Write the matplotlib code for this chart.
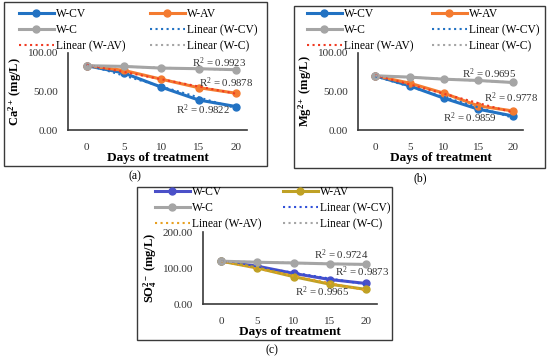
import numpy as np
import matplotlib
matplotlib.use("Agg")
import matplotlib.pyplot as plt
from matplotlib.patches import Rectangle
from matplotlib.legend import Legend

plt.rcParams['font.family'] = ['Liberation Serif', 'DejaVu Serif']
plt.rcParams['mathtext.fontset'] = 'custom'
plt.rcParams['mathtext.rm'] = 'Liberation Serif'
plt.rcParams['mathtext.it'] = 'Liberation Serif:italic'
plt.rcParams['mathtext.bf'] = 'Liberation Serif:bold'

# ---------------- data ----------------
days = [0, 5, 10, 15, 20]
series_names = ["W-CV", "W-AV", "W-C"]

ca_cv = [83.5, 74.0, 55.7, 39.0, 30.5]
ca_av = [83.5, 77.4, 66.0, 55.0, 47.8]
ca_c = [83.5, 82.6, 80.4, 79.6, 78.3]
ca_r2 = ["0.9822", "0.9878", "0.9923"]

mg_cv = [70.4, 57.4, 41.3, 27.0, 18.3]
mg_av = [70.4, 60.9, 47.8, 31.3, 24.8]
mg_c = [70.4, 68.7, 66.0, 64.3, 61.7]
mg_r2 = ["0.9859", "0.9778", "0.9695"]

so_cv = [119.0, 105.0, 85.0, 68.0, 57.0]
so_av = [119.0, 100.0, 76.0, 55.0, 40.5]
so_c = [119.0, 116.0, 114.0, 111.5, 110.0]
so_r2 = ["0.9965", "0.9873", "0.9724"]

W, H = 550, 360
fig = plt.figure(figsize=(W / 100, H / 100), dpi=100)


def fx(px):
    return px / W


def fy(py):
    return 1 - py / H


def box(x0, y0, x1, y1):
    fig.patches.append(Rectangle((fx(x0), fy(y1)), fx(x1) - fx(x0), fy(y0) - fy(y1),
                                 transform=fig.transFigure, fill=False,
                                 edgecolor='#3a3a3a', lw=1.0, zorder=0))


def panel(axpx, ylim, yticks, ylabel, data, colors, lincolors, r2, r2pos, leg1, leg2):
    x0, y0, x1, y1 = axpx
    ax = fig.add_axes([fx(x0), fy(y1), fx(x1) - fx(x0), fy(y0) - fy(y1)])
    pos = np.arange(len(days))
    handles = []
    for vals, c, name in zip(data, colors, series_names):
        h, = ax.plot(pos, vals, '-o', color=c, lw=2.2, ms=5, label=name, zorder=3)
        handles.append(h)
    lin_handles = []
    for vals, c, name in zip(data, lincolors, series_names):
        k, b = np.polyfit(pos, vals, 1)
        h, = ax.plot(pos, k * pos + b, ':', color=c, lw=1.5, label=f"Linear ({name})", zorder=4)
        lin_handles.append(h)
    ax.set_xlim(-0.5, 4.3)
    ax.set_ylim(*ylim)
    ax.set_yticks(yticks)
    ax.set_yticklabels([f"{v:.2f}" for v in yticks])
    ax.set_xticks(pos)
    ax.set_xticklabels([str(d) for d in days])
    ax.tick_params(length=0, labelsize=8, colors='#333333')
    ax.tick_params(axis='y', pad=7)
    ax.tick_params(axis='x', pad=9)
    for s in ['top', 'right']:
        ax.spines[s].set_visible(False)
    for s in ['left', 'bottom']:
        ax.spines[s].set_color('#3a3a3a')
        ax.spines[s].set_linewidth(1.2)
    ax.set_xlabel("Days of treatment", fontsize=9.5, fontweight='bold', labelpad=0)
    ax.set_ylabel(ylabel, fontsize=9, fontweight='bold', labelpad=3)
    for t, (px, py) in zip(r2, r2pos):
        ax.text(px, py, f"R$^2$ = {t}", fontsize=7.8, color='#333333', ha='left', va='center')
    col1 = [handles[0], handles[2], lin_handles[1]]
    col2 = [handles[1], lin_handles[0], lin_handles[2]]
    for hs, (lx, ly) in ((col1, leg1), (col2, leg2)):
        lg = Legend(fig, hs, [h.get_label() for h in hs], frameon=False,
                    loc='upper left', bbox_to_anchor=(fx(lx), fy(ly)),
                    bbox_transform=fig.transFigure,
                    fontsize=8.3, handlelength=3.0, handletextpad=0.2,
                    labelspacing=0.35, borderpad=0, borderaxespad=0)
        fig.legends.append(lg)
    return ax


blue = '#2272C3'
orange = '#F47B30'
gray = '#A5A5A5'

# panel (a)
box(4, 2, 267, 166)
panel((68, 53, 247, 130), (0, 100), [0, 50, 100], r'Ca$^{\mathbf{2+}}$ (mg/L)',
      [ca_cv, ca_av, ca_c], [blue, orange, gray], [blue, '#F03A22', gray],
      ca_r2, [(2.39, 27), (3.0, 62), (2.82, 88)], (19, 8), (150, 8))
fig.text(fx(135), fy(176), "(a)", fontsize=8.5, ha='center', va='center')

# panel (b)
box(294, 6, 545, 168)
panel((358, 53, 523, 130), (0, 100), [0, 50, 100], r'Mg$^{\mathbf{2+}}$ (mg/L)',
      [mg_cv, mg_av, mg_c], [blue, orange, gray], [blue, '#F03A22', gray],
      mg_r2, [(1.97, 15.6), (3.16, 41.6), (2.52, 73)], (307, 8), (432, 8))
fig.text(fx(420), fy(178), "(b)", fontsize=8.5, ha='center', va='center')

# panel (c)
box(137, 187, 392, 340)
panel((203, 232, 377, 304), (0, 200), [0, 100, 200], r'SO$_\mathbf{4}^{\mathbf{2-}}$ (mg/L)',
      [so_cv, so_av, so_c], ['#4B50C8', '#BFA125', gray], ['#3050D8', '#E8A020', gray],
      so_r2, [(2.04, 33), (3.14, 89), (2.57, 136)], (155, 186), (283, 186))
fig.text(fx(272), fy(350), "(c)", fontsize=8.5, ha='center', va='center')

fig.savefig("out.png", dpi=100)
